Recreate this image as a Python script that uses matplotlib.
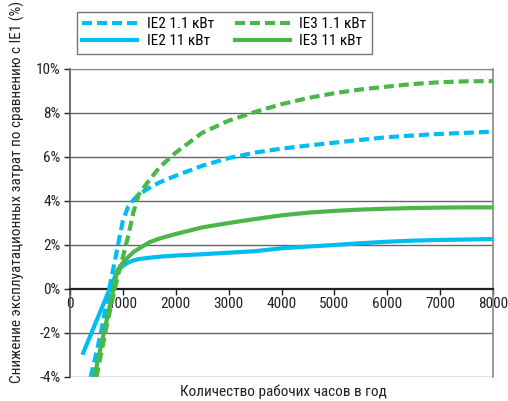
import matplotlib
matplotlib.use("Agg")
import matplotlib.pyplot as plt

plt.rcParams['font.family'] = ['Roboto Condensed', 'PT Sans Narrow', 'DejaVu Sans']

# Data (hours per year -> % saving vs IE1)
ie2_11_x = [250, 500, 750, 900, 1000, 1100, 1200, 1300, 1500, 1700, 2000, 2500, 3000, 3500, 4000, 4500, 5000, 5500, 6000, 6500, 7000, 7500, 8000]
ie2_11_y = [-2.9, -1.45, 0.0, 0.85, 1.05, 1.2, 1.3, 1.36, 1.42, 1.47, 1.52, 1.58, 1.65, 1.72, 1.85, 1.93, 2.0, 2.08, 2.15, 2.2, 2.23, 2.25, 2.27]

ie2_1_x = [390, 500, 600, 700, 800, 900, 1000, 1100, 1200, 1300, 1500, 1700, 2000, 2500, 3000, 3500, 4000, 4500, 5000, 5500, 6000, 6500, 7000, 7500, 8000]
ie2_1_y = [-4.0, -2.9, -1.8, -0.5, 0.7, 1.9, 3.1, 3.75, 4.05, 4.3, 4.6, 4.85, 5.15, 5.6, 5.95, 6.2, 6.38, 6.52, 6.65, 6.78, 6.9, 6.98, 7.05, 7.1, 7.15]

ie3_1_x = [500, 600, 700, 800, 900, 1000, 1100, 1200, 1300, 1500, 1700, 2000, 2500, 3000, 3500, 4000, 4500, 5000, 5500, 6000, 6500, 7000, 7500, 8000]
ie3_1_y = [-4.0, -2.8, -1.6, -0.5, 0.55, 1.45, 2.4, 3.5, 4.3, 4.95, 5.55, 6.2, 7.1, 7.65, 8.05, 8.4, 8.68, 8.9, 9.07, 9.2, 9.32, 9.4, 9.44, 9.45]

ie3_11_x = [450, 500, 600, 700, 800, 900, 1000, 1100, 1200, 1300, 1500, 1700, 2000, 2500, 3000, 3500, 4000, 4500, 5000, 5500, 6000, 6500, 7000, 7500, 8000]
ie3_11_y = [-4.1, -3.55, -2.45, -1.35, -0.25, 0.85, 1.2, 1.45, 1.68, 1.83, 2.12, 2.3, 2.5, 2.8, 3.0, 3.18, 3.35, 3.47, 3.55, 3.61, 3.65, 3.68, 3.7, 3.71, 3.71]

labels = ['IE2 1.1 кВт', 'IE2 11 кВт', 'IE3 1.1 кВт', 'IE3 11 кВт']
x_ticks = [0, 1000, 2000, 3000, 4000, 5000, 6000, 7000, 8000]
y_ticks = [-4, -2, 0, 2, 4, 6, 8, 10]
y_ticklabels = ['-4%', '-2%', '0%', '2%', '4%', '6%', '8%', '10%']

blue = '#00BDF2'
green = '#4BB74A'

fig = plt.figure(figsize=(5.08, 4.01), dpi=100)
ax = fig.add_axes([70/508, 1-377/401, (493-70)/508, (377-69)/401])

ax.set_xlim(0, 8000)
ax.set_ylim(-4, 10)

for yv in y_ticks:
    if yv != 0:
        ax.axhline(yv, color='#666666', lw=1.0, zorder=1)

dash = (2.4, 1.2)
l1, = ax.plot(ie2_1_x, ie2_1_y, color=blue, lw=3, dashes=dash, zorder=3)
l2, = ax.plot(ie2_11_x, ie2_11_y, color=blue, lw=3, zorder=3)
l3, = ax.plot(ie3_1_x, ie3_1_y, color=green, lw=3, dashes=dash, zorder=4)
l4, = ax.plot(ie3_11_x, ie3_11_y, color=green, lw=3, zorder=4)

ax.spines['bottom'].set_position(('data', 0))
ax.spines['bottom'].set_color('#222222')
ax.spines['bottom'].set_linewidth(1.6)
ax.spines['left'].set_color('#555555')
ax.spines['left'].set_linewidth(1.2)
ax.spines['top'].set_color('#888888')
ax.spines['right'].set_color('#888888')
ax.spines['right'].set_linewidth(1.2)

ax.set_xticks(x_ticks)
ax.set_xticklabels([str(v) for v in x_ticks])
ax.set_yticks(y_ticks)
ax.set_yticklabels(y_ticklabels)
ax.tick_params(axis='both', labelsize=11, colors='#222222', length=4, width=1, pad=3)
ax.tick_params(axis='x', direction='out', pad=2)

fig.text(17/508, 1-192/401, 'Снижение эксплуатационных затрат по сравнению с IE1 (%)',
         rotation=90, ha='center', va='center', fontsize=11, color='#222222')
fig.text(283/508, 1-392/401, 'Количество рабочих часов в год',
         ha='center', va='center', fontsize=11, color='#222222')

leg = fig.legend([l1, l2, l3, l4], labels, ncol=2, loc='upper left',
                 bbox_to_anchor=(77/508, 1-12/401), frameon=True, fancybox=False,
                 edgecolor='#555555', fontsize=11, handlelength=3.6,
                 handletextpad=0.6, columnspacing=1.4, borderpad=0.35,
                 labelspacing=0.2, borderaxespad=0)
leg.get_frame().set_linewidth(1.0)

fig.savefig('out.png', dpi=100)
